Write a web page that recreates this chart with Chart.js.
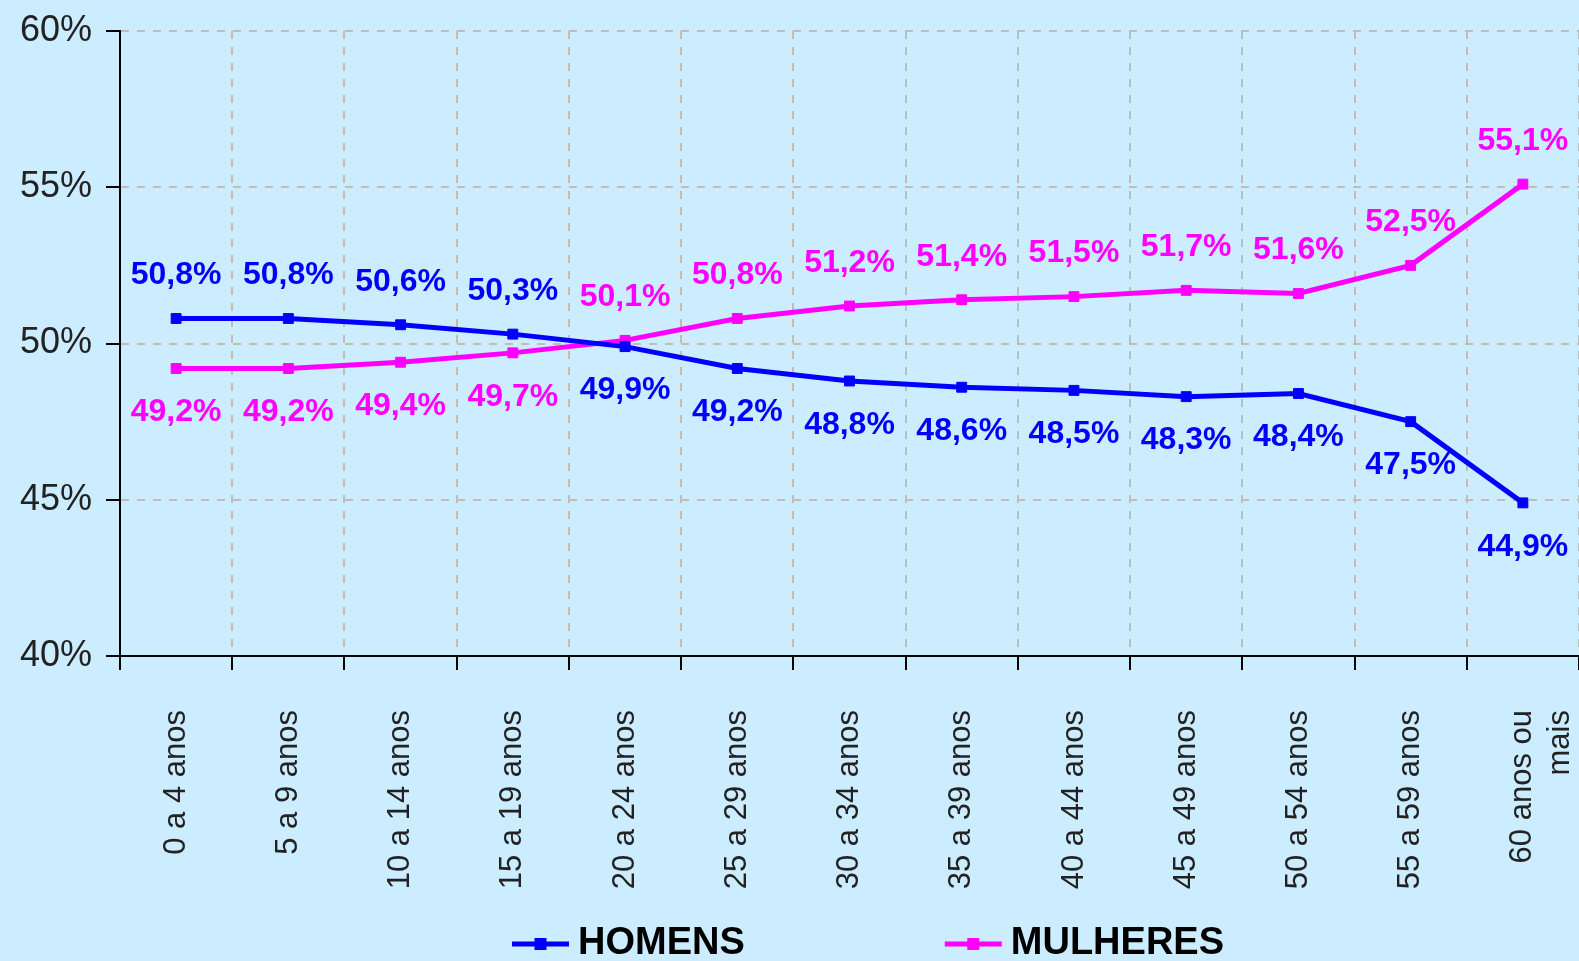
<!DOCTYPE html>
<html><head><meta charset="utf-8">
<script src="https://cdn.jsdelivr.net/npm/chart.js@4.4.1/dist/chart.umd.min.js"></script>
<style>html,body{margin:0;padding:0;background:#CCECFF;overflow:hidden;} #wrap{width:1579px;height:961px;}</style>
</head><body><div id="wrap"><canvas id="c" width="1579" height="961"></canvas></div>
<script>
const categories = ['0 a 4 anos','5 a 9 anos','10 a 14 anos','15 a 19 anos','20 a 24 anos','25 a 29 anos','30 a 34 anos','35 a 39 anos','40 a 44 anos','45 a 49 anos','50 a 54 anos','55 a 59 anos',['60 anos ou','mais']];
const homens = [50.8,50.8,50.6,50.3,49.9,49.2,48.8,48.6,48.5,48.3,48.4,47.5,44.9];
const mulheres = [49.2,49.2,49.4,49.7,50.1,50.8,51.2,51.4,51.5,51.7,51.6,52.5,55.1];
const seriesNames = ['HOMENS','MULHERES'];
const seriesColors = ['#0000FF','#FF00FF'];
const yMin = 40, yMax = 60, yStep = 5;

const FONT = '"Liberation Sans", Arial, sans-serif';
const fmt = v => v.toFixed(1).replace('.', ',') + '%';

const dataLabels = {
  id: 'dataLabels',
  afterDatasetsDraw(chart) {
    const ctx = chart.ctx;
    chart.data.datasets.forEach((ds, di) => {
      const meta = chart.getDatasetMeta(di);
      const other = chart.data.datasets[1 - di].data;
      meta.data.forEach((pt, i) => {
        const v = ds.data[i];
        const above = v > other[i];
        ctx.save();
        ctx.font = 'bold 32px ' + FONT;
        ctx.fillStyle = ds.borderColor;
        ctx.textAlign = 'center';
        ctx.textBaseline = 'middle';
        ctx.fillText(fmt(v), pt.x, pt.y + (above ? -43 : 44));
        ctx.restore();
      });
    });
  }
};

const customLegend = {
  id: 'customLegend',
  afterDraw(chart) {
    const ctx = chart.ctx;
    ctx.save();
    ctx.font = 'bold 38px ' + FONT;
    ctx.textBaseline = 'middle';
    const iconW = 57, gap = 9, itemGap = 200;
    const items = chart.data.datasets.map(ds => ({text: ds.label, color: ds.borderColor, w: ctx.measureText(ds.label).width}));
    const total = items.reduce((s, it) => s + iconW + gap + it.w, 0) + itemGap * (items.length - 1);
    let x = 868 - total / 2;
    const y = 944;
    items.forEach(it => {
      ctx.strokeStyle = it.color;
      ctx.lineWidth = 5;
      ctx.beginPath(); ctx.moveTo(x, y); ctx.lineTo(x + iconW, y); ctx.stroke();
      ctx.fillStyle = it.color;
      ctx.fillRect(x + iconW / 2 - 6, y - 6, 12, 12);
      ctx.fillStyle = '#000';
      ctx.textAlign = 'left';
      ctx.fillText(it.text, x + iconW + gap, y);
      x += iconW + gap + it.w + itemGap;
    });
    ctx.restore();
  }
};

new Chart(document.getElementById('c'), {
  type: 'line',
  data: {
    labels: categories,
    datasets: [homens, mulheres].map((d, i) => ({
      label: seriesNames[i],
      data: d,
      borderColor: seriesColors[i],
      backgroundColor: seriesColors[i],
      borderWidth: 5,
      pointStyle: 'rect',
      pointRadius: 7,
      pointBorderWidth: 1,
      tension: 0,
      fill: false
    }))
  },
  options: {
    responsive: false,
    animation: false,
    layout: {autoPadding: false, padding: {top: 31, right: 0, bottom: 60, left: 0}},
    plugins: {legend: {display: false}, tooltip: {enabled: false}},
    scales: {
      x: {
        offset: true,
        grid: {offset: true, color: '#C4BCB2', lineWidth: 2, tickColor: '#000', tickWidth: 2, tickLength: 14, tickBorderDash: []},
        border: {color: '#000', width: 2, dash: [8, 8]},
        ticks: {autoSkip: false, maxRotation: 90, minRotation: 90, padding: 40, color: '#222', font: {family: FONT, size: 31}},
        afterFit(scale) { scale.height = 245; scale.paddingRight = 0; scale.paddingLeft = 0; }
      },
      y: {
        min: yMin, max: yMax,
        grid: {color: '#C4BCB2', lineWidth: 2, tickColor: '#000', tickWidth: 2, tickLength: 14, tickBorderDash: []},
        border: {color: '#000', width: 2, dash: [8, 8]},
        ticks: {stepSize: yStep, padding: 14, color: '#222', font: {family: FONT, size: 36}, callback: v => v + '%'},
        afterFit(scale) { scale.width = 120; scale.paddingTop = 0; scale.paddingBottom = 0; }
      }
    }
  },
  plugins: [dataLabels, customLegend]
});
</script>
</body></html>
